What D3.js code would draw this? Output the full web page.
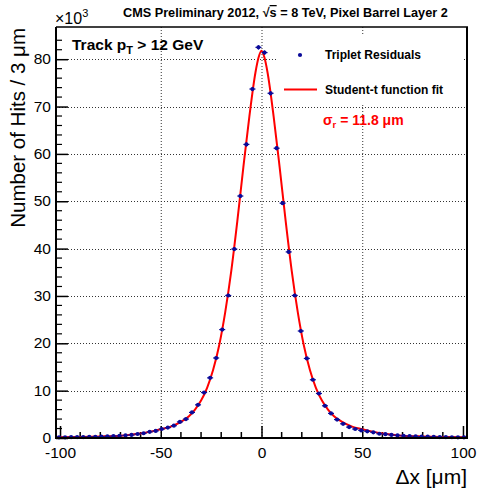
<!DOCTYPE html>
<html>
<head>
<meta charset="utf-8">
<script src="https://cdn.jsdelivr.net/npm/d3@7"></script>
<style>
    body { margin: 0; background: #fff; }
    text { font-family: "Liberation Sans", Arial, Helvetica, sans-serif; }
</style>
</head>
<body>
<div id="chart"></div>
<script>
// bin centres of the 3 um histogram and the counts (x10^3)
var binCenters = [
    -100.5, -97.5, -94.5, -91.5, -88.5, -85.5, -82.5, -79.5, -76.5, -73.5,
    -70.5, -67.5, -64.5, -61.5, -58.5, -55.5, -52.5, -49.5, -46.5, -43.5,
    -40.5, -37.5, -34.5, -31.5, -28.5, -25.5, -22.5, -19.5, -16.5, -13.5,
    -10.5, -7.5, -4.5, -1.5, 1.5, 4.5, 7.5, 10.5, 13.5, 16.5,
    19.5, 22.5, 25.5, 28.5, 31.5, 34.5, 37.5, 40.5, 43.5, 46.5,
    49.5, 52.5, 55.5, 58.5, 61.5, 64.5, 67.5, 70.5, 73.5, 76.5,
    79.5, 82.5, 85.5, 88.5, 91.5, 94.5, 97.5, 100.5
];
var hitCounts = [
    0.15, 0.15, 0.18, 0.2, 0.2, 0.22, 0.25, 0.3, 0.35, 0.4,
    0.45, 0.55, 0.65, 0.85, 1.0, 1.3, 1.5, 1.9, 2.2, 2.6,
    3.4, 4.0, 5.4, 7.0, 9.6, 12.7, 16.9, 22.9, 30.1, 39.9,
    51.1, 62.0, 73.7, 82.5, 81.4, 72.8, 61.2, 49.6, 39.3, 30.1,
    22.6, 16.8, 12.3, 9.4, 6.8, 5.2, 3.9, 3.0, 2.3, 1.9,
    1.6, 1.4, 1.2, 0.9, 0.8, 0.65, 0.55, 0.45, 0.4, 0.35,
    0.3, 0.27, 0.22, 0.2, 0.18, 0.16, 0.15, 0.14
];

// student-t fit curve (x10^3)
var fitX = [
    -102, -90, -80, -70, -60, -55, -50, -45, -40, -36, -33, -30, -27, -24, -21,
    -18, -15, -12, -9, -6, -3, -1.5, 0, 1.5, 3, 6, 9, 12, 15, 18,
    21, 24, 27, 30, 33, 36, 40, 45, 50, 55, 60, 70, 80, 90, 102
];
var fitY = [
    0.15, 0.22, 0.32, 0.5, 0.95, 1.35, 1.85, 2.4, 3.4, 4.6, 6.0, 7.9, 10.6, 14.4, 19.6,
    26.6, 35.3, 45.8, 57.2, 68.0, 77.2, 80.3, 81.8, 80.3, 77.2, 68.0, 57.2, 45.8, 35.3, 26.6,
    19.6, 14.4, 10.6, 7.9, 6.0, 4.6, 3.4, 2.4, 1.85, 1.35, 0.95, 0.5, 0.32, 0.22, 0.15
];

var xTicksMajor = [-100, -50, 0, 50, 100];
var xTicksMinor = [-90, -80, -70, -60, -40, -30, -20, -10, 10, 20, 30, 40, 60, 70, 80, 90];
var yTicksMajor = [0, 10, 20, 30, 40, 50, 60, 70, 80];

var W = 478, H = 491;
var frame = { l: 56, r: 467, t: 27, b: 438 };
var binWidth = 3;
var markerColor = '#0a0a99';

var svg = d3.select('#chart').append('svg')
    .attr('width', W)
    .attr('height', H);

svg.append('rect').attr('width', W).attr('height', H).attr('fill', '#fff');

var x = d3.scaleLinear().domain([-102, 102]).range([frame.l, frame.r]);
var y = d3.scaleLinear().domain([0, 86.8]).range([frame.b, frame.t]);

// grid
var grid = svg.append('g')
    .attr('stroke', '#333')
    .attr('stroke-width', 1)
    .attr('stroke-dasharray', '1,2');
grid.selectAll('.gx').data(xTicksMajor.filter(d => d > -100 && d < 100)).enter()
    .append('line')
    .attr('x1', d => x(d) + 0.5).attr('x2', d => x(d) + 0.5)
    .attr('y1', frame.t).attr('y2', frame.b);
grid.selectAll('.gy').data(yTicksMajor.filter(d => d > 0)).enter()
    .append('line')
    .attr('x1', frame.l).attr('x2', frame.r)
    .attr('y1', d => Math.round(y(d)) + 0.5).attr('y2', d => Math.round(y(d)) + 0.5);

// legend box is filled white and hides the grid behind it
svg.append('rect')
    .attr('x', 276).attr('y', 35)
    .attr('width', 186).attr('height', 69)
    .attr('fill', '#fff');

// axes: ticks drawn inside the frame, ROOT style
var xAxis = d3.axisBottom(x)
    .tickValues(xTicksMajor)
    .tickSize(-12)
    .tickFormat(d => d);
var gx = svg.append('g')
    .attr('transform', 'translate(0,' + frame.b + ')')
    .call(xAxis);
gx.select('.domain').remove();
gx.selectAll('line').attr('stroke', '#000').attr('stroke-width', 1.5);
gx.selectAll('text')
    .attr('y', 9)
    .attr('dy', '0.71em')
    .style('font-size', '15.5px')
    .attr('fill', '#000');
gx.selectAll('.minor').data(xTicksMinor).enter()
    .append('line')
    .attr('x1', d => x(d)).attr('x2', d => x(d))
    .attr('y1', 0).attr('y2', -6)
    .attr('stroke', '#000').attr('stroke-width', 1.5);

var yAxis = d3.axisLeft(y)
    .tickValues(yTicksMajor)
    .tickSize(-12)
    .tickFormat(d => d);
var gy = svg.append('g')
    .attr('transform', 'translate(' + frame.l + ',0)')
    .call(yAxis);
gy.select('.domain').remove();
gy.selectAll('line').attr('stroke', '#000').attr('stroke-width', 1.5);
gy.selectAll('text')
    .attr('x', -5)
    .attr('dy', '0.3em')
    .style('font-size', '15.5px')
    .attr('fill', '#000');
gy.selectAll('.minor').data(d3.range(2, 86, 2).filter(d => d % 10 !== 0)).enter()
    .append('line')
    .attr('x1', 0).attr('x2', 6)
    .attr('y1', d => y(d)).attr('y2', d => y(d))
    .attr('stroke', '#000').attr('stroke-width', 1.2);

// fit curve
var line = d3.line()
    .x((d, i) => x(fitX[i]))
    .y(d => y(d))
    .curve(d3.curveMonotoneX);
svg.append('path')
    .datum(fitY)
    .attr('d', line)
    .attr('fill', 'none')
    .attr('stroke', '#ff0000')
    .attr('stroke-width', 2);

// data points with error bars
var pts = svg.append('g').attr('fill', markerColor).attr('stroke', markerColor);
binCenters.forEach((c, i) => {
    var n = hitCounts[i];
    var err = Math.sqrt(n * 1000) / 1000;
    pts.append('line')
        .attr('x1', x(c - binWidth / 2)).attr('x2', x(c + binWidth / 2))
        .attr('y1', y(n)).attr('y2', y(n))
        .attr('stroke-width', 1.2);
    pts.append('line')
        .attr('x1', x(c)).attr('x2', x(c))
        .attr('y1', y(n + err) - 0.8).attr('y2', y(n - err) + 0.8)
        .attr('stroke-width', 1.2);
    pts.append('circle')
        .attr('cx', x(c)).attr('cy', y(n))
        .attr('r', 2.1)
        .attr('stroke', 'none');
});

// frame
var fr = svg.append('g').attr('stroke', '#000').attr('fill', 'none');
fr.append('line').attr('x1', frame.l).attr('x2', frame.l).attr('y1', frame.t).attr('y2', frame.b + 1).attr('stroke-width', 2);
fr.append('line').attr('x1', frame.l).attr('x2', frame.r + 1).attr('y1', frame.b).attr('y2', frame.b).attr('stroke-width', 2);
fr.append('line').attr('x1', frame.r).attr('x2', frame.r).attr('y1', frame.t).attr('y2', frame.b).attr('stroke-width', 2);
fr.append('line').attr('x1', frame.l).attr('x2', frame.r + 1).attr('y1', frame.t).attr('y2', frame.t).attr('stroke-width', 1.5);

// titles
var title = svg.append('text')
    .attr('x', 123).attr('y', 17)
    .style('font-size', '12.7px')
    .style('font-weight', 'bold');
title.append('tspan').text('CMS Preliminary 2012, √');
title.append('tspan').text('s').style('text-decoration', 'overline');
title.append('tspan').text(' = 8 TeV, Pixel Barrel Layer 2');

var expo = svg.append('text')
    .attr('x', 55).attr('y', 24)
    .style('font-size', '16px');
expo.append('tspan').text('×10');
expo.append('tspan').text('3').attr('dy', -7).style('font-size', '11px');

svg.append('text')
    .attr('transform', 'translate(25,28) rotate(-90)')
    .attr('text-anchor', 'end')
    .style('font-size', '20.5px')
    .text('Number of Hits / 3 μm');

svg.append('text')
    .attr('x', 467).attr('y', 484)
    .attr('text-anchor', 'end')
    .style('font-size', '21px')
    .text('Δx [μm]');

var track = svg.append('text')
    .attr('x', 72).attr('y', 50)
    .style('font-size', '15.5px')
    .style('font-weight', 'bold');
track.append('tspan').text('Track p');
track.append('tspan').text('T').attr('dy', 4).style('font-size', '11px');
track.append('tspan').text(' > 12 GeV').attr('dy', -4);

// legend
svg.append('circle').attr('cx', 300).attr('cy', 55).attr('r', 2.1).attr('fill', markerColor);
svg.append('text')
    .attr('x', 325).attr('y', 59)
    .style('font-size', '12px')
    .style('font-weight', 'bold')
    .text('Triplet Residuals');
svg.append('line')
    .attr('x1', 284).attr('x2', 317)
    .attr('y1', 89.5).attr('y2', 89.5)
    .attr('stroke', '#ff0000').attr('stroke-width', 2);
svg.append('text')
    .attr('x', 325).attr('y', 94)
    .style('font-size', '12px')
    .style('font-weight', 'bold')
    .text('Student-t function fit');

var sigma = svg.append('text')
    .attr('x', 323).attr('y', 125)
    .attr('fill', '#ff0000')
    .style('font-size', '14px')
    .style('font-weight', 'bold');
sigma.append('tspan').text('σ');
sigma.append('tspan').text('r').attr('dy', 3).style('font-size', '9.5px');
sigma.append('tspan').text(' = 11.8  μm').attr('dy', -3);
</script>
</body>
</html>
